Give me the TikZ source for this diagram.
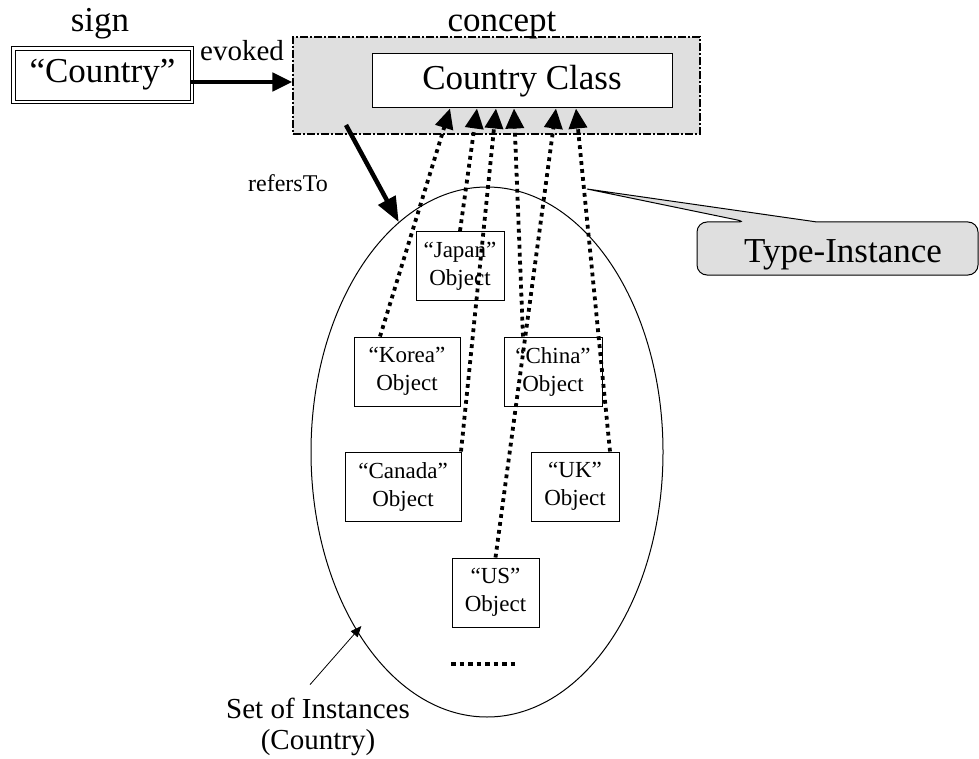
\documentclass[tikz,border=0pt]{standalone}
\usepackage{fontspec}
\setmainfont{Liberation Serif}
\usetikzlibrary{arrows.meta,shapes.geometric}

\tikzset{
  big/.style={font=\fontsize{35}{40}\selectfont},
  obj/.style={draw, line width=1pt, fill=white, align=center, inner sep=0pt,
    minimum height=69pt, font=\fontsize{23}{28}\selectfont},
  inst/.style={line width=3.8pt, dash pattern=on 3.8pt off 4.2pt,
    -{Triangle[length=20pt,width=18pt]}},
  heavy/.style={line width=4.5pt, -{Triangle[length=20pt,width=18pt]}}
}

\begin{document}
\begin{tikzpicture}[x=1pt,y=-1pt]
\useasboundingbox (0,0) rectangle (979,759);

% sign and concept
\node[big, draw, line width=0.9pt, minimum width=175pt, minimum height=50pt, inner sep=0pt] (sign) at (102.5,75) {“Country”};
\draw[line width=0.9pt] ([shift={(-3pt,3pt)}]sign.north west) rectangle ([shift={(3pt,-3pt)}]sign.south east);
\node[big, anchor=base] (signlbl) at (100,32) {sign};
\node[draw, line width=1.2pt, dash pattern=on 8pt off 2pt on 2pt off 2pt, fill=gray!25, minimum width=407pt, minimum height=97pt] (concept) at (496.5,85.5) {};
\node[big, anchor=base] (conceptlbl) at (502,32) {concept};
\node[big, draw, line width=1pt, fill=white, minimum width=300pt, minimum height=54pt, inner sep=0pt] (cls) at (522,81) {Country Class};

\draw[heavy] ([yshift=-7pt]sign.east) -- ([yshift=-7pt]sign.east -| concept.west);
\node[font=\fontsize{29}{32}\selectfont, anchor=base] (evoked) at (242,61) {evoked};

% set of instances
\node[draw, line width=1pt, ellipse, minimum width=352pt, minimum height=530pt, inner sep=0pt] (set) at (487,452) {};
\coordinate (rt) at (346,125);
\draw[heavy, -{Triangle[length=25pt,width=19pt]}] (rt) -- (set.111);
\node[font=\fontsize{24}{28}\selectfont, anchor=base] (refers) at (288,192) {refersTo};

\node[obj, minimum width=88pt] (japan) at (460,266) {“Japan”\\Object};
\node[obj, minimum width=106pt] (korea) at (407,371.5) {“Korea”\\Object};
\node[obj, minimum width=98pt] (china) at (553,371.5) {“China”\\Object};
\node[obj, minimum width=116pt] (canada) at (403,486.5) {“Canada”\\Object};
\node[obj, minimum width=88pt] (uk) at (575,486.5) {“UK”\\Object};
\node[obj, minimum width=87pt] (us) at (495.5,592.5) {“US”\\Object};

\foreach \src/\dx/\tx in {korea/-27/-72, japan/0/-45, canada/58/-26, china/-30/-8, us/0/34, uk/35/54}
  \draw[inst] ([xshift=\dx pt]\src.north) -- ([xshift=\tx pt]cls.south);

\coordinate (dotsl) at (451,664);
\coordinate (dotsr) at (516,664);
\draw[line width=4.5pt, dash pattern=on 4.5pt off 4pt] (dotsl) -- (dotsr);

\node[font=\fontsize{29}{31}\selectfont, align=center] (setlbl) at (318,727) {Set of Instances\\(Country)};
\draw[line width=0.8pt, -{Triangle[length=11pt,width=9pt]}, shorten >=-7pt] ([shift={(-8pt,10pt)}]setlbl.north) -- (set.234);

% callout
\draw[line width=1pt, fill=gray!25, rounded corners=10pt] (697,222) -- (747,222) [sharp corners]-- (587,189) -- (817,222) [rounded corners=10pt]-- (978,222) -- (978,275) -- (697,275) -- cycle;
\node[big, anchor=base] (typeinst) at (843,262) {Type-Instance};

\end{tikzpicture}
\end{document}
